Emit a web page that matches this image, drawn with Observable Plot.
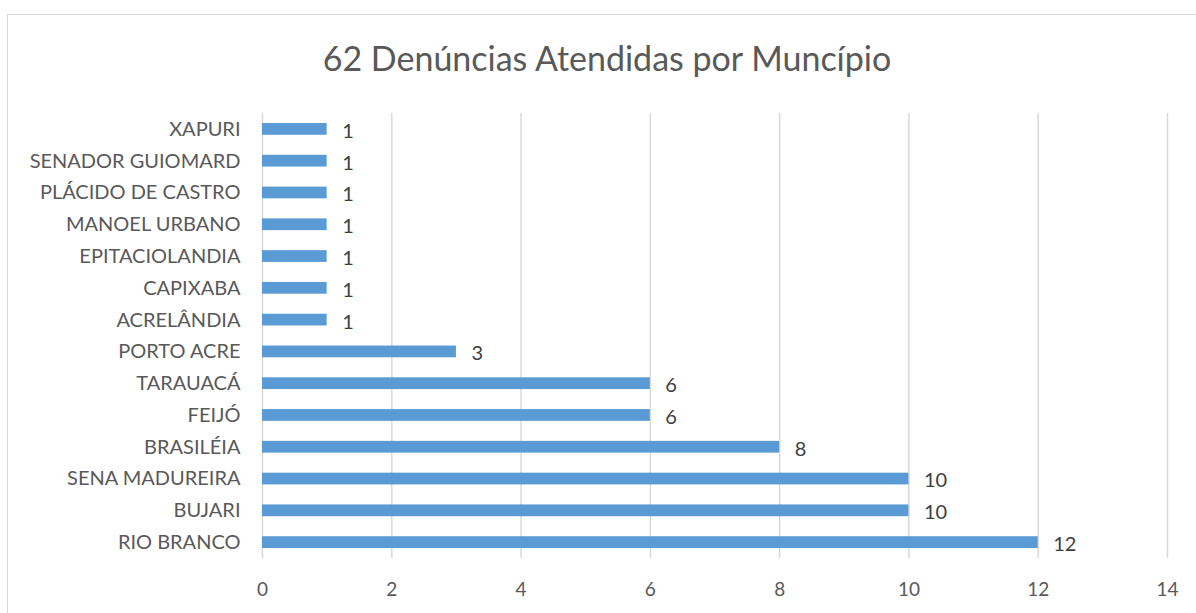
<!DOCTYPE html>
<html>
<head>
<meta charset="utf-8">
<script src="https://cdn.jsdelivr.net/npm/d3@7"></script>
<script src="https://cdn.jsdelivr.net/npm/@observablehq/plot@0.6"></script>
<style>
  html, body { margin: 0; padding: 0; background: #fff; }
  #wrap { position: relative; width: 1196px; height: 613px; overflow: hidden; font-family: Lato, "Open Sans", sans-serif; }
  #frame { position: absolute; left: 7px; top: 14px; width: 1192px; height: 640px; border: 1.5px solid #d9d9d9; box-sizing: border-box; }
  #title { position: relative; width: 1196px; height: 90px; box-sizing: border-box; padding-left: 18px; padding-top: 38px; text-align: center; font-size: 34px; color: #595959; line-height: 40px; }
  #chart { position: relative; }
</style>
</head>
<body>
<div id="wrap">
  <div id="frame"></div>
  <div id="title">62 Denúncias Atendidas por Muncípio</div>
  <div id="chart"></div>
</div>
<script>
const municipios = ["XAPURI", "SENADOR GUIOMARD", "PLÁCIDO DE CASTRO", "MANOEL URBANO", "EPITACIOLANDIA", "CAPIXABA", "ACRELÂNDIA", "PORTO ACRE", "TARAUACÁ", "FEIJÓ", "BRASILÉIA", "SENA MADUREIRA", "BUJARI", "RIO BRANCO"];
const denuncias = [1, 1, 1, 1, 1, 1, 1, 3, 6, 6, 8, 10, 10, 12];
const xTicks = [0, 2, 4, 6, 8, 10, 12, 14];

const data = municipios.map((m, i) => ({municipio: m, valor: denuncias[i]}));

const chart = Plot.plot({
  width: 1196,
  height: 523,
  marginLeft: 262,
  marginRight: 29,
  marginTop: 23,
  marginBottom: 55,
  style: {fontFamily: "Lato, 'Open Sans', sans-serif", background: "transparent"},
  x: {domain: [0, 14], ticks: xTicks, label: null},
  y: {domain: municipios, paddingInner: 0.63, paddingOuter: 0.315, round: false, label: null},
  marks: [
    Plot.gridX(xTicks, {stroke: "#d9d9d9", strokeOpacity: 1, strokeWidth: 1.5}),
    Plot.barX(data, {x: "valor", y: "municipio", fill: "#5b9bd5"}),
    Plot.text(data, {x: "valor", y: "municipio", text: d => String(d.valor), textAnchor: "start", dx: 15, dy: 2, fontSize: 20, fill: "#404040"}),
    Plot.axisX(xTicks, {tickSize: 0, tickPadding: 24, fontSize: 19, color: "#595959", label: null}),
    Plot.axisY({tickSize: 0, tickPadding: 22, fontSize: 20, color: "#595959", label: null})
  ]
});
document.getElementById("chart").appendChild(chart);
</script>
</body>
</html>
